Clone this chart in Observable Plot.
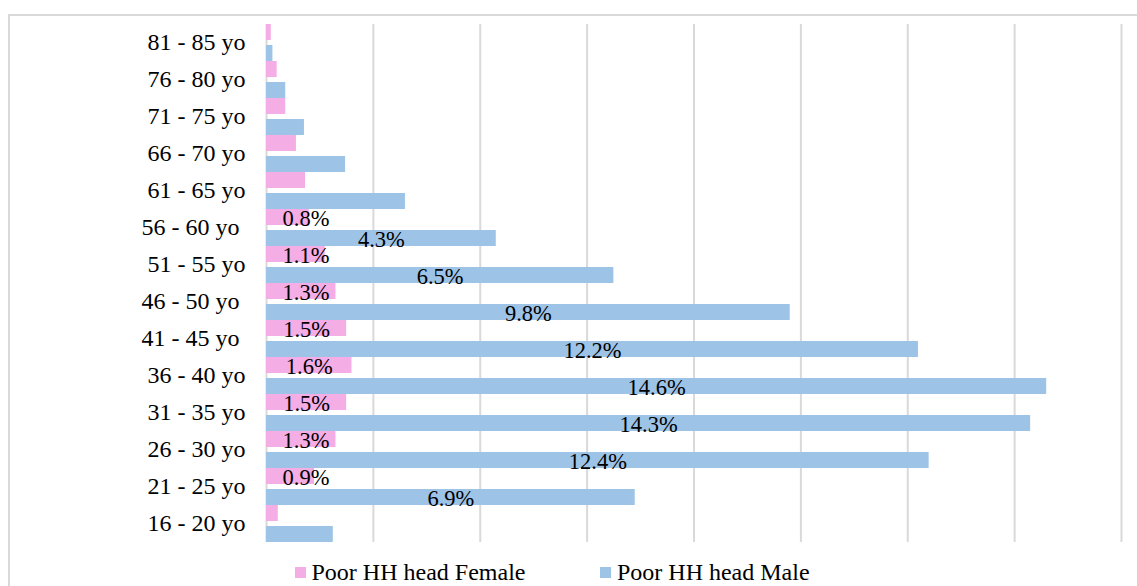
<!DOCTYPE html>
<html><head><meta charset="utf-8">
<script src="https://cdn.jsdelivr.net/npm/d3@7"></script>
<script src="https://cdn.jsdelivr.net/npm/@observablehq/plot@0.6"></script>
<style>
body{margin:0;background:#fff;}
#wrap{position:relative;width:1137px;height:586px;overflow:hidden;font-family:'Liberation Serif',serif;}
#frame{position:absolute;left:8px;top:14px;width:1140px;height:600px;border:2px solid #d9d9d9;box-sizing:border-box;}
#chart{position:absolute;left:0;top:0;}
#legend{position:absolute;left:295px;top:560px;display:flex;font-family:'Liberation Serif',serif;font-size:24px;line-height:24px;color:#000;white-space:nowrap;}
.item{display:flex;align-items:center;}
.sw{width:11px;height:11px;margin-right:5.5px;}
</style></head><body>
<div id="wrap"><div id="frame"></div><div id="chart"></div><div id="legend"></div></div>
<script>
// Age groups, bottom to top
const categories = ["16 - 20 yo", "21 - 25 yo", "26 - 30 yo", "31 - 35 yo", "36 - 40 yo", "41 - 45 yo ", "46 - 50 yo ", "51 - 55 yo", "56 - 60 yo ", "61 - 65 yo", "66 - 70 yo", "71 - 75 yo", "76 - 80 yo", "81 - 85 yo"];
const series = ["Poor HH head Female", "Poor HH head Male"];
const colors = ["#F5ADE6", "#9DC3E6"];
const female = [0.22, 0.9, 1.3, 1.5, 1.6, 1.5, 1.3, 1.1, 0.8, 0.73, 0.56, 0.36, 0.2, 0.09];
const male = [1.25, 6.9, 12.4, 14.3, 14.6, 12.2, 9.8, 6.5, 4.3, 2.6, 1.48, 0.71, 0.36, 0.12];
const labeledGroups = ["21 - 25 yo", "26 - 30 yo", "31 - 35 yo", "36 - 40 yo", "41 - 45 yo ", "46 - 50 yo ", "51 - 55 yo", "56 - 60 yo "];
const xTicks = [0, 2, 4, 6, 8, 10, 12, 14, 16];

const rows = [];
categories.forEach((c, i) => {
  rows.push({category: c, series: series[0], value: female[i]});
  rows.push({category: c, series: series[1], value: male[i]});
});
const labelRows = rows.filter(d => labeledGroups.includes(d.category));
const serif = "'Liberation Serif', serif";

const chart = Plot.plot({
  width: 1137,
  height: 552,
  marginTop: 22,
  marginBottom: 9,
  marginLeft: 266,
  marginRight: 16,
  style: {background: "transparent", fontFamily: serif, color: "#000"},
  x: {domain: [0, 16], axis: null},
  y: {domain: series, axis: null, paddingInner: 0.24, paddingOuter: 0},
  fy: {domain: categories.slice().reverse(), padding: 0, label: null, axis: null},
  color: {domain: series, range: colors},
  marks: [
    Plot.gridX(xTicks, {stroke: "#d9d9d9", strokeWidth: 2, strokeOpacity: 1}),
    Plot.barX(rows, {x: "value", y: "series", fy: "category", fill: "series"}),
    Plot.text(labelRows, {
      x: d => d.series === series[0] ? Math.max(d.value / 2, 0.74) : d.value / 2,
      y: "series", fy: "category",
      text: d => d.value.toFixed(1) + "%",
      fontFamily: serif, fontSize: 22.5, fill: "#000", dy: 1
    }),
    Plot.axisFy({anchor: "left", tickSize: 0, tickPadding: 21, fontSize: 24, fontFamily: serif, label: null, fill: "#000", dy: -1})
  ]
});
document.getElementById("chart").appendChild(chart);

const legend = document.getElementById("legend");
series.forEach((s, i) => {
  const item = document.createElement("div");
  item.className = "item";
  if (i === 0) item.style.marginRight = "75px";
  const sw = document.createElement("span");
  sw.className = "sw";
  sw.style.background = colors[i];
  const t = document.createElement("span");
  t.textContent = s;
  item.appendChild(sw);
  item.appendChild(t);
  legend.appendChild(item);
});
</script>
</body></html>
